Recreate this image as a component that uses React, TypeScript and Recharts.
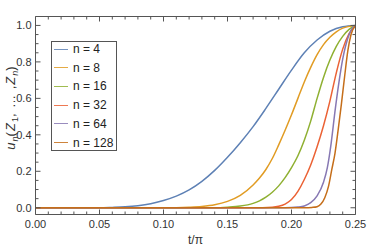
import React from 'react';
import { LineChart, Line, XAxis, YAxis, Legend } from 'recharts';

// ---- data ----
const seriesNames = ['n = 4', 'n = 8', 'n = 16', 'n = 32', 'n = 64', 'n = 128'];
const seriesColors = ['#5E81B5', '#E19C24', '#8FB032', '#EB6235', '#8778B3', '#C56E1A'];

const n4: [number, number][] = [
  [0, 0], [0.05, 0], [0.06, 0.002], [0.07, 0.005], [0.08, 0.011], [0.09, 0.022],
  [0.10, 0.04], [0.11, 0.064], [0.12, 0.098], [0.13, 0.145], [0.14, 0.205],
  [0.15, 0.277], [0.16, 0.357], [0.17, 0.445], [0.18, 0.545], [0.19, 0.65],
  [0.20, 0.755], [0.21, 0.85], [0.22, 0.92], [0.23, 0.968], [0.24, 0.993], [0.25, 1],
];
const n8: [number, number][] = [
  [0, 0], [0.10, 0], [0.12, 0.003], [0.13, 0.007], [0.14, 0.016], [0.15, 0.035],
  [0.16, 0.068], [0.17, 0.125], [0.175, 0.163], [0.18, 0.21], [0.185, 0.27],
  [0.19, 0.345], [0.195, 0.425], [0.20, 0.51], [0.205, 0.6], [0.21, 0.69],
  [0.215, 0.77], [0.22, 0.84], [0.225, 0.895], [0.23, 0.935], [0.235, 0.965],
  [0.24, 0.985], [0.25, 1],
];
const n16: [number, number][] = [
  [0, 0], [0.14, 0], [0.15, 0.003], [0.16, 0.009], [0.17, 0.024], [0.175, 0.038],
  [0.18, 0.058], [0.185, 0.085], [0.19, 0.12], [0.195, 0.165], [0.20, 0.22],
  [0.205, 0.285], [0.21, 0.37], [0.215, 0.475], [0.22, 0.6], [0.225, 0.715],
  [0.23, 0.81], [0.235, 0.885], [0.24, 0.94], [0.245, 0.978], [0.25, 1],
];
const n32: [number, number][] = [
  [0, 0], [0.17, 0], [0.185, 0.003], [0.19, 0.008], [0.195, 0.02], [0.20, 0.045],
  [0.205, 0.09], [0.21, 0.155], [0.215, 0.235], [0.22, 0.335], [0.225, 0.45],
  [0.23, 0.585], [0.235, 0.74], [0.24, 0.87], [0.245, 0.955], [0.25, 1],
];
const n64: [number, number][] = [
  [0, 0], [0.195, 0], [0.205, 0.004], [0.21, 0.01], [0.215, 0.028], [0.22, 0.065],
  [0.225, 0.14], [0.228, 0.22], [0.231, 0.355], [0.234, 0.53], [0.237, 0.685],
  [0.24, 0.815], [0.244, 0.93], [0.247, 0.98], [0.25, 1],
];
const n128: [number, number][] = [
  [0, 0], [0.21, 0], [0.216, 0.002], [0.22, 0.006], [0.223, 0.02], [0.226, 0.055],
  [0.229, 0.12], [0.2315, 0.21], [0.234, 0.3], [0.2365, 0.43], [0.239, 0.57],
  [0.2415, 0.72], [0.244, 0.86], [0.2465, 0.95], [0.25, 1],
];
const seriesPoints = [n4, n8, n16, n32, n64, n128];

const xMajorTicks = [0, 0.05, 0.1, 0.15, 0.2, 0.25];
const xAllTicks = [
  0, 0.01, 0.02, 0.03, 0.04, 0.05, 0.06, 0.07, 0.08, 0.09, 0.1, 0.11, 0.12,
  0.13, 0.14, 0.15, 0.16, 0.17, 0.18, 0.19, 0.2, 0.21, 0.22, 0.23, 0.24, 0.25,
];
const yMajorTicks = [0, 0.2, 0.4, 0.6, 0.8, 1.0];
const yAllTicks = [
  0, 0.05, 0.1, 0.15, 0.2, 0.25, 0.3, 0.35, 0.4, 0.45, 0.5, 0.55, 0.6, 0.65,
  0.7, 0.75, 0.8, 0.85, 0.9, 0.95, 1.0,
];
const xDomain: [number, number] = [0, 0.25];
const yDomain: [number, number] = [-0.037, 1.049];

// ---- styling ----
const FRAME = '#555555';
const TEXT = '#333333';
const FONT = '"Liberation Sans", Arial, sans-serif';
const MAJOR_LEN = 5;
const MINOR_LEN = 3;

const isMajor = (v: number, majors: number[]) => majors.some((m) => Math.abs(m - v) < 1e-9);

function BottomTick(props: any) {
  const { x, y, payload } = props;
  const v = payload.value as number;
  const major = isMajor(v, xMajorTicks);
  return (
    <g>
      <line x1={x} y1={y} x2={x} y2={y - (major ? MAJOR_LEN : MINOR_LEN)} stroke={FRAME} strokeWidth={1} />
      {major && (
        <text x={x} y={y + 13} textAnchor="middle" fontFamily={FONT} fontSize={11} fill={TEXT}>
          {v.toFixed(2)}
        </text>
      )}
    </g>
  );
}

function TopTick(props: any) {
  const { x, y, payload } = props;
  const major = isMajor(payload.value, xMajorTicks);
  return <line x1={x} y1={y} x2={x} y2={y + (major ? MAJOR_LEN : MINOR_LEN)} stroke={FRAME} strokeWidth={1} />;
}

function LeftTick(props: any) {
  const { x, y, payload } = props;
  const v = payload.value as number;
  const major = isMajor(v, yMajorTicks);
  return (
    <g>
      <line x1={x} y1={y} x2={x + (major ? MAJOR_LEN : MINOR_LEN)} y2={y} stroke={FRAME} strokeWidth={1} />
      {major && (
        <text x={x - 4} y={y + 4} textAnchor="end" fontFamily={FONT} fontSize={11} fill={TEXT}>
          {v.toFixed(1)}
        </text>
      )}
    </g>
  );
}

function RightTick(props: any) {
  const { x, y, payload } = props;
  const major = isMajor(payload.value, yMajorTicks);
  return <line x1={x} y1={y} x2={x - (major ? MAJOR_LEN : MINOR_LEN)} y2={y} stroke={FRAME} strokeWidth={1} />;
}

function XLabel(props: any) {
  const vb = props.viewBox || { x: 35.5, y: 214.5, width: 320, height: 20 };
  const cx = vb.x + vb.width / 2;
  return (
    <text x={cx} y={vb.y + 29} textAnchor="middle" fontFamily={FONT} fontSize={12} fill={TEXT}>
      t/π
    </text>
  );
}

const subStyle: React.CSSProperties = { fontSize: 9, position: 'relative', top: 3, letterSpacing: 0 };

function YLabelHtml() {
  return (
    <div
      style={{
        position: 'absolute',
        left: 0,
        top: 0,
        transformOrigin: '0 0',
        transform: 'translate(19.5px, 107.5px) rotate(-90deg) translate(-50%, -100%)',
        whiteSpace: 'nowrap',
        fontFamily: FONT,
        fontSize: 13,
        lineHeight: '15px',
        letterSpacing: '1px',
        color: TEXT,
        pointerEvents: 'none',
      }}
    >
      <i>u</i>
      <i style={subStyle}>n</i>(<i>Z</i>
      <span style={subStyle}>1</span>, … ,<i>Z</i>
      <i style={subStyle}>n</i>)
    </div>
  );
}

function LegendBox() {
  return (
    <div
      style={{
        position: 'relative',
        width: 66,
        height: 110,
        boxSizing: 'border-box',
        border: `1px solid ${FRAME}`,
        background: '#ffffff',
        fontFamily: FONT,
        fontSize: 12,
        color: '#222222',
      }}
    >
      {seriesNames.map((name, i) => (
        <div
          key={name}
          style={{
            position: 'absolute',
            left: 2,
            top: 0 + i * 18.74,
            height: 14,
            display: 'flex',
            alignItems: 'center',
            whiteSpace: 'nowrap',
            lineHeight: '14px',
          }}
        >
          <span
            style={{
              display: 'inline-block',
              width: 14,
              height: 0,
              borderTop: `1.5px solid ${seriesColors[i]}`,
              marginRight: 5,
              opacity: 0.85,
            }}
          />
          <span>{name}</span>
        </div>
      ))}
    </div>
  );
}

export default function App() {
  const seriesData = seriesPoints.map((pts) => pts.map(([t, u]) => ({ t, u })));
  return (
    <div style={{ position: 'absolute', left: 0, top: 0, width: 374, height: 249, background: '#ffffff' }}>
      <LineChart width={374} height={249} margin={{ top: 15.5, right: 17.5, bottom: 14.5, left: 5.5 }}>
        <XAxis
          xAxisId="b"
          dataKey="t"
          type="number"
          domain={xDomain}
          allowDataOverflow
          ticks={xAllTicks}
          interval={0}
          orientation="bottom"
          height={20}
          tickSize={0}
          tickMargin={0}
          tick={<BottomTick />}
          axisLine={{ stroke: FRAME, strokeWidth: 1 }}
          tickLine={false}
          label={<XLabel />}
        />
        <XAxis
          xAxisId="t"
          dataKey="t"
          type="number"
          domain={xDomain}
          allowDataOverflow
          ticks={xAllTicks}
          interval={0}
          orientation="top"
          height={1}
          tickSize={0}
          tickMargin={0}
          tick={<TopTick />}
          axisLine={{ stroke: FRAME, strokeWidth: 1 }}
          tickLine={false}
        />
        <YAxis
          yAxisId="l"
          type="number"
          domain={yDomain}
          allowDataOverflow
          ticks={yAllTicks}
          interval={0}
          orientation="left"
          width={30}
          tickSize={0}
          tickMargin={0}
          tick={<LeftTick />}
          axisLine={{ stroke: FRAME, strokeWidth: 1 }}
          tickLine={false}
        />
        <YAxis
          yAxisId="r"
          type="number"
          domain={yDomain}
          allowDataOverflow
          ticks={yAllTicks}
          interval={0}
          orientation="right"
          width={1}
          tickSize={0}
          tickMargin={0}
          tick={<RightTick />}
          axisLine={{ stroke: FRAME, strokeWidth: 1 }}
          tickLine={false}
        />
        {seriesData.map((d, i) => (
          <Line
            key={seriesNames[i]}
            name={seriesNames[i]}
            data={d}
            dataKey="u"
            xAxisId="b"
            yAxisId="l"
            type="monotone"
            stroke={seriesColors[i]}
            strokeWidth={1.5}
            dot={false}
            activeDot={false}
            isAnimationActive={false}
          />
        ))}
        <Legend
          layout="horizontal"
          verticalAlign="middle"
          align="center"
          content={<LegendBox />}
          wrapperStyle={{ left: 51, top: 41, width: 66, height: 110 }}
        />
      </LineChart>
      <YLabelHtml />
    </div>
  );
}
